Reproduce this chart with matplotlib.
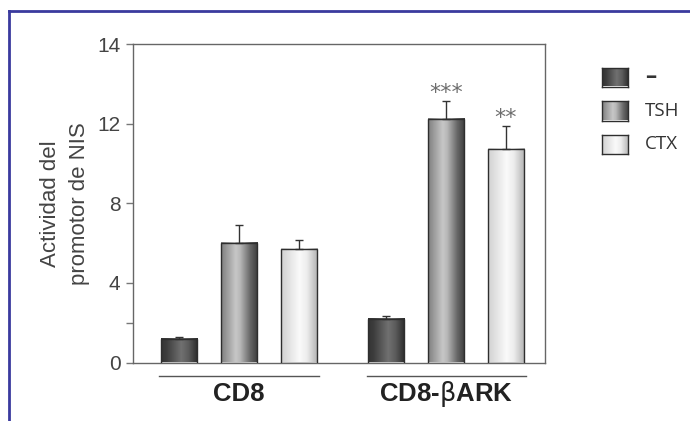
import numpy as np
import matplotlib
matplotlib.use('Agg')
import matplotlib.pyplot as plt
from matplotlib.lines import Line2D

# ---------------- data ----------------
groups = ['CD8', 'CD8-$\\mathrm{\\beta}$ARK']
series = ['–', 'TSH', 'CTX']
values_dash = [1.2, 2.2]
values_tsh = [6.0, 12.25]
values_ctx = [5.7, 10.75]
errors_dash = [0.08, 0.12]
errors_tsh = [0.9, 0.92]
errors_ctx = [0.45, 1.15]
stars_tsh = ['', '***']
stars_ctx = ['', '**']
ytick_values = [0, 4, 8, 12, 16]
ytick_labels = ['0', '4', '8', '12', '14']
yminor_values = [2]

values = [values_dash, values_tsh, values_ctx]
errors = [errors_dash, errors_tsh, errors_ctx]
stars = [['', ''], stars_tsh, stars_ctx]

# gradient stops (position, gray level) for each series
grads = [
    [(0.0, 0.20), (0.15, 0.24), (0.55, 0.44), (0.75, 0.36), (1.0, 0.17)],
    [(0.0, 0.50), (0.40, 0.78), (0.52, 0.72), (0.80, 0.40), (1.0, 0.24)],
    [(0.0, 0.82), (0.50, 0.98), (0.70, 0.93), (1.0, 0.70)],
]


def grad_img(stops, n=64):
    xs = np.linspace(0, 1, n)
    g = np.interp(xs, [s[0] for s in stops], [s[1] for s in stops])
    img = np.stack([g, g, g], axis=-1)  # (n, 3)
    return img[np.newaxis, :, :]       # (1, n, 3)


plt.rcParams['font.family'] = ['Liberation Sans', 'DejaVu Sans']
plt.rcParams['mathtext.fontset'] = 'dejavusans'

fig = plt.figure(figsize=(6.9, 4.21), dpi=100)
ax = fig.add_axes([133 / 690, 1 - 362.5 / 421, (545 - 133) / 690, (362.5 - 44.3) / 421])

group_gap = 3.45
width = 0.6
edge = '#2e2e2e'

for s in range(len(series)):
    xs = [g * group_gap + s for g in range(len(groups))]
    bars = ax.bar(xs, values[s], width=width, facecolor='none', edgecolor=edge,
                  linewidth=1.0, zorder=3)
    for b in bars:
        x0, w, h = b.get_x(), b.get_width(), b.get_height()
        ax.imshow(grad_img(grads[s]), extent=[x0, x0 + w, 0, h], aspect='auto',
                  interpolation='bilinear', zorder=2)
    ax.errorbar(xs, values[s], yerr=[np.zeros(len(xs)), errors[s]], fmt='none',
                ecolor='#333333', elinewidth=1.0, capsize=3, capthick=1.0, zorder=2.5)
    for x, v, e, st in zip(xs, values[s], errors[s], stars[s]):
        if st:
            ax.annotate(st, (x, v + e), xytext=(0, -1.5), textcoords='offset points',
                        ha='center', va='bottom', fontsize=16, color='#6e6e6e',
                        family='DejaVu Sans')

ax.set_xlim(-0.76, 6.1)
ax.set_ylim(0, 16)
ax.set_yticks(ytick_values)
ax.set_yticklabels(ytick_labels)
ax.set_yticks(yminor_values, minor=True)
ax.set_xticks([])
ax.tick_params(axis='y', which='both', direction='out', length=5, width=1.0,
               color='#777777', labelsize=15, labelcolor='#444444', pad=4)
for sp in ax.spines.values():
    sp.set_color('#666666')
    sp.set_linewidth(1.0)

ax.set_ylabel('Actividad del\npromotor de NIS', fontsize=16, color='#444444',
              linespacing=1.5)
ax.yaxis.set_label_coords(-0.105, 0.5)

# group lines and labels
trans = ax.get_xaxis_transform()
for g, name in enumerate(groups):
    first = g * group_gap
    last = g * group_gap + len(series) - 1
    ax.plot([first - 0.32, last + 0.33], [-0.042, -0.042], transform=trans,
            color='#555555', lw=1.0, clip_on=False)
    ax.text((first + last) / 2, -0.098, name, transform=trans, ha='center',
            va='center', fontsize=18.5, fontweight='bold', color='#222222')

# legend (manual)
leg_y = [77, 111, 144.5]
for s, name in enumerate(series):
    yc = leg_y[s]
    lax = fig.add_axes([601.7 / 690, 1 - (yc + 9.5) / 421, 26.6 / 690, 19 / 421])
    lax.imshow(grad_img(grads[s]), aspect='auto', interpolation='bilinear')
    lax.set_xticks([])
    lax.set_yticks([])
    for sp in lax.spines.values():
        sp.set_color(edge)
        sp.set_linewidth(1.0)
    fig.text(645 / 690, 1 - yc / 421, name, ha='left', va='center',
             fontsize=13.5 if s else 16, color='#333333',
             family=['Open Sans', 'DejaVu Sans'],
             fontweight='bold' if s == 0 else 'normal')

# blue frame
blue = '#3a3a9e'
xl = 8.7 / 690
yt = 1 - 11 / 421
fig.add_artist(Line2D([xl, xl], [0, yt], transform=fig.transFigure, color=blue, lw=2))
fig.add_artist(Line2D([xl, 1], [yt, yt], transform=fig.transFigure, color=blue, lw=2))

fig.savefig('out.png', dpi=100)
